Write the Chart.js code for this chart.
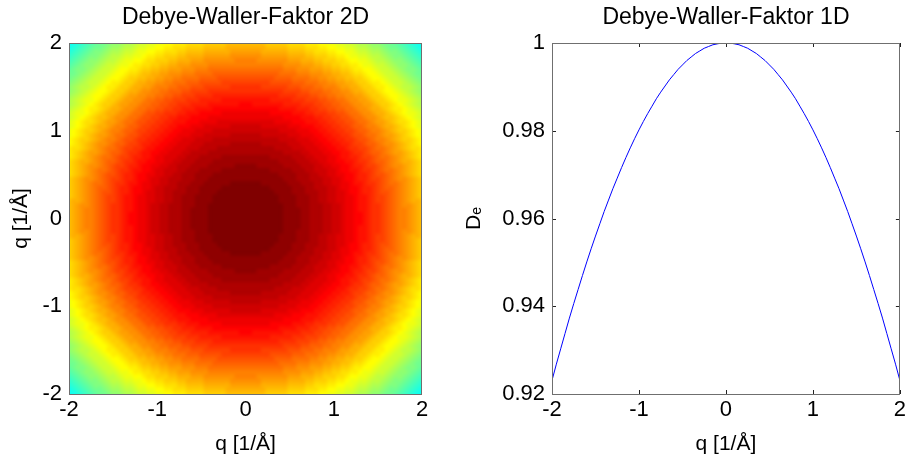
<!DOCTYPE html>
<html>
<head>
<meta charset="utf-8">
<title>Debye-Waller-Faktor</title>
<script src="https://cdn.jsdelivr.net/npm/chart.js@4.4.1/dist/chart.umd.min.js"></script>
<style>
  body { margin: 0; background: #ffffff; }
  #wrap { position: relative; width: 909px; height: 461px; }
  #chart2D { position: absolute; left: 0; top: 0; }
  #chart1D { position: absolute; left: 460px; top: 0; }
</style>
</head>
<body>
<div id="wrap">
  <canvas id="chart2D" width="460" height="461"></canvas>
  <canvas id="chart1D" width="449" height="461"></canvas>
</div>
<script>
// q axis (1/Å) and the 1D Debye-Waller profile
const qValues = [
  -2, -1.95, -1.9, -1.85, -1.8, -1.75, -1.7, -1.65, -1.6, -1.55,
  -1.5, -1.45, -1.4, -1.35, -1.3, -1.25, -1.2, -1.15, -1.1, -1.05,
  -1, -0.95, -0.9, -0.85, -0.8, -0.75, -0.7, -0.65, -0.6, -0.55,
  -0.5, -0.45, -0.4, -0.35, -0.3, -0.25, -0.2, -0.15, -0.1, -0.05,
  0,
  0.05, 0.1, 0.15, 0.2, 0.25, 0.3, 0.35, 0.4, 0.45, 0.5,
  0.55, 0.6, 0.65, 0.7, 0.75, 0.8, 0.85, 0.9, 0.95, 1,
  1.05, 1.1, 1.15, 1.2, 1.25, 1.3, 1.35, 1.4, 1.45, 1.5,
  1.55, 1.6, 1.65, 1.7, 1.75, 1.8, 1.85, 1.9, 1.95, 2
];
const debyeWaller1D = [
  0.9231, 0.9268, 0.9303, 0.9338, 0.9373, 0.9406, 0.9438, 0.9470, 0.9501, 0.9531,
  0.9560, 0.9588, 0.9616, 0.9642, 0.9668, 0.9692, 0.9716, 0.9739, 0.9761, 0.9782,
  0.9802, 0.9821, 0.9839, 0.9856, 0.9873, 0.9888, 0.9902, 0.9916, 0.9928, 0.9940,
  0.9950, 0.9960, 0.9968, 0.9976, 0.9982, 0.9988, 0.9992, 0.9996, 0.9998, 1.0000,
  1.0000,
  1.0000, 0.9998, 0.9996, 0.9992, 0.9988, 0.9982, 0.9976, 0.9968, 0.9960, 0.9950,
  0.9940, 0.9928, 0.9916, 0.9902, 0.9888, 0.9873, 0.9856, 0.9839, 0.9821, 0.9802,
  0.9782, 0.9761, 0.9739, 0.9716, 0.9692, 0.9668, 0.9642, 0.9616, 0.9588, 0.9560,
  0.9531, 0.9501, 0.9470, 0.9438, 0.9406, 0.9373, 0.9338, 0.9303, 0.9268, 0.9231
];
const qTicks = [-2, -1, 0, 1, 2];
const dwTicks = [0.92, 0.94, 0.96, 0.98, 1];
const colorLimits = [0.763, 1];

const titles = ['Debye-Waller-Faktor 2D', 'Debye-Waller-Faktor 1D'];
const qLabel = 'q [1/\u00c5]';
const dwLabel = 'D\u2091';

const FONT = "'Liberation Sans', Arial, sans-serif";
const BOX_COLOR = '#6f6f6f';

// MATLAB style jet colormap with 64 entries
function jetMap(m) {
  const n = Math.ceil(m / 4);
  const u = [];
  for (let i = 1; i <= n; i++) u.push(i / n);
  for (let i = 1; i < n; i++) u.push(1);
  for (let i = n; i >= 1; i--) u.push(i / n);
  const gStart = Math.ceil(n / 2) - (m % 4 === 1 ? 1 : 0);
  const map = [];
  for (let i = 0; i < m; i++) map.push([0, 0, 0]);
  u.forEach((val, k) => {
    const g = gStart + k;      // 0-based index
    const r = g + n;
    const b = g - n;
    if (r >= 0 && r < m) map[r][0] = val;
    if (g >= 0 && g < m) map[g][1] = val;
    if (b >= 0 && b < m) map[b][2] = val;
  });
  return map.map(c => c.map(v => Math.round(v * 255)));
}
const jet = jetMap(64);

function colorFor(v) {
  let idx = Math.floor((v - colorLimits[0]) / (colorLimits[1] - colorLimits[0]) * jet.length);
  idx = Math.max(0, Math.min(jet.length - 1, idx));
  return jet[idx];
}

// 2D map: outer product of the 1D profile (D(qx) * D(qy))
const cells = [];
qValues.forEach((qy, j) => {
  qValues.forEach((qx, i) => {
    cells.push({ x: qx, y: qy, i: i, j: j, v: debyeWaller1D[i] * debyeWaller1D[j] });
  });
});

// one pixel per cell in an offscreen image, then stretched onto the scales
const heatmapPlugin = {
  id: 'heatmap',
  beforeDatasetsDraw(chart) {
    if (chart.canvas.id !== 'chart2D') return;
    const { ctx, chartArea, scales } = chart;
    const n = qValues.length;
    const off = document.createElement('canvas');
    off.width = n;
    off.height = n;
    const octx = off.getContext('2d');
    const img = octx.createImageData(n, n);
    chart.data.datasets[0].data.forEach(cell => {
      const c = colorFor(cell.v);
      const row = n - 1 - cell.j;  // image rows go top-down
      const k = (row * n + cell.i) * 4;
      img.data[k] = c[0];
      img.data[k + 1] = c[1];
      img.data[k + 2] = c[2];
      img.data[k + 3] = 255;
    });
    octx.putImageData(img, 0, 0);

    const half = (qValues[1] - qValues[0]) / 2;
    const x0 = scales.x.getPixelForValue(qValues[0] - half);
    const x1 = scales.x.getPixelForValue(qValues[n - 1] + half);
    const y0 = scales.y.getPixelForValue(qValues[n - 1] + half);
    const y1 = scales.y.getPixelForValue(qValues[0] - half);
    ctx.save();
    ctx.beginPath();
    ctx.rect(chartArea.left, chartArea.top, chartArea.right - chartArea.left, chartArea.bottom - chartArea.top);
    ctx.clip();
    ctx.imageSmoothingEnabled = true;
    ctx.imageSmoothingQuality = 'high';
    ctx.drawImage(off, 0, 0, n, n, x0, y0, x1 - x0, y1 - y0);
    ctx.restore();
  }
};

// axes box plus inward tick marks (MATLAB look)
const boxPlugin = {
  id: 'axesBox',
  afterDraw(chart, args, opts) {
    const { ctx, chartArea, scales } = chart;
    const { left, top, right, bottom } = chartArea;
    ctx.save();
    if (opts.ticks) {
      ctx.strokeStyle = '#222222';
      ctx.lineWidth = 1;
      ctx.beginPath();
      scales.x.ticks.forEach(t => {
        const px = Math.round(scales.x.getPixelForValue(t.value)) + 0.5;
        ctx.moveTo(px, bottom); ctx.lineTo(px, bottom - 4);
        ctx.moveTo(px, top); ctx.lineTo(px, top + 4);
      });
      scales.y.ticks.forEach(t => {
        const py = Math.round(scales.y.getPixelForValue(t.value)) + 0.5;
        ctx.moveTo(left, py); ctx.lineTo(left + 4, py);
        ctx.moveTo(right, py); ctx.lineTo(right - 4, py);
      });
      ctx.stroke();
    }
    ctx.strokeStyle = BOX_COLOR;
    ctx.lineWidth = 1;
    ctx.strokeRect(Math.round(left) + 0.5, Math.round(top) + 0.5,
      Math.round(right - left) - 1, Math.round(bottom - top));
    ctx.restore();
  }
};

function fixedTicks(values) {
  return scale => { scale.ticks = values.map(v => ({ value: v })); };
}

function axisOptions(min, max, ticks, label, fitSize, horizontal, titlePadding) {
  return {
    type: 'linear',
    min: min,
    max: max,
    afterBuildTicks: fixedTicks(ticks),
    afterFit: scale => {
      if (horizontal) scale.height = fitSize; else scale.width = fitSize;
    },
    grid: { display: false, drawTicks: false },
    border: { display: false },
    ticks: {
      color: '#000000',
      font: { family: FONT, size: 22 },
      padding: horizontal ? 3 : 7,
      maxRotation: 0,
      autoSkip: false,
      callback: v => String(v)
    },
    title: {
      display: true,
      text: label,
      color: '#000000',
      font: { family: FONT, size: 21 },
      padding: titlePadding
    }
  };
}

function titleOptions(text) {
  return {
    display: true,
    text: text,
    color: '#000000',
    fullSize: false,
    font: { family: FONT, size: 23, weight: 'normal' },
    padding: { top: 4, bottom: 11.4 }
  };
}

Chart.register(heatmapPlugin, boxPlugin);

new Chart(document.getElementById('chart2D'), {
  type: 'scatter',
  data: {
    datasets: [{
      data: cells,
      pointRadius: 0,
      pointHoverRadius: 0,
      showLine: false
    }]
  },
  options: {
    responsive: false,
    animation: false,
    events: [],
    layout: { padding: { left: 0, right: 38, top: 0, bottom: 0 } },
    scales: {
      x: axisOptions(-2, 2, qTicks, qLabel, 67, true, { top: 0, bottom: 4 }),
      y: axisOptions(-2, 2, qTicks, qLabel, 69, false, { top: 9, bottom: 0 })
    },
    plugins: {
      legend: { display: false },
      tooltip: { enabled: false },
      title: titleOptions(titles[0]),
      axesBox: { ticks: false }
    }
  }
});

new Chart(document.getElementById('chart1D'), {
  type: 'line',
  data: {
    datasets: [{
      data: qValues.map((q, i) => ({ x: q, y: debyeWaller1D[i] })),
      borderColor: '#0000ff',
      borderWidth: 1,
      pointRadius: 0,
      tension: 0,
      fill: false
    }]
  },
  options: {
    responsive: false,
    animation: false,
    events: [],
    layout: { padding: { left: 0, right: 6, top: 0, bottom: 0 } },
    scales: {
      x: axisOptions(-2, 2, qTicks, qLabel, 67, true, { top: 0, bottom: 4 }),
      y: axisOptions(0.92, 1, dwTicks, dwLabel, 92, false, { top: 2, bottom: 0 })
    },
    plugins: {
      legend: { display: false },
      tooltip: { enabled: false },
      title: titleOptions(titles[1]),
      axesBox: { ticks: true }
    }
  }
});
</script>
</body>
</html>
